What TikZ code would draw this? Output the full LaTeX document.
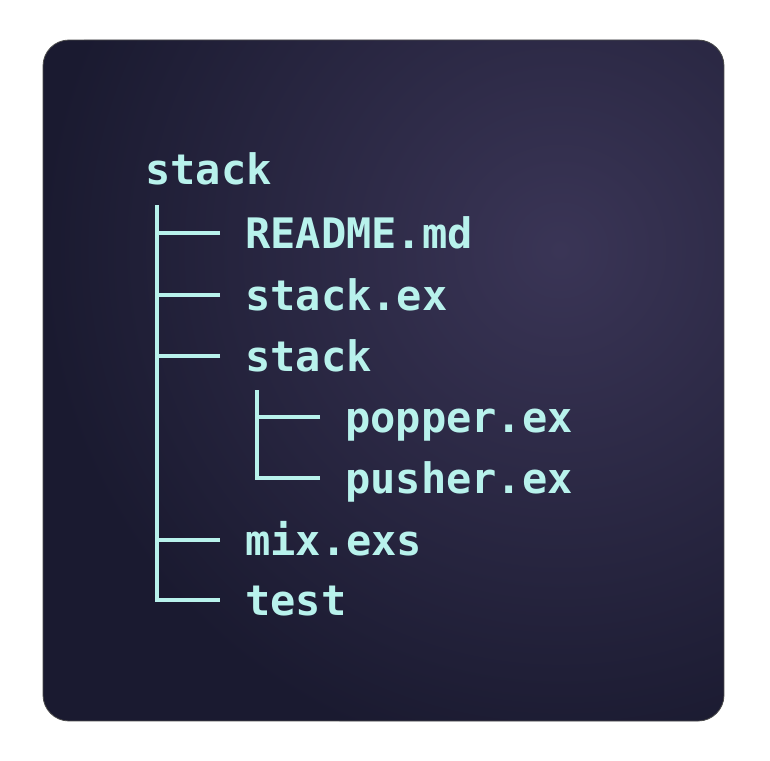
\documentclass[tikz,border=0pt]{standalone}
\usepackage{fontspec}
\setmonofont{DejaVu Sans Mono}
\definecolor{txt}{RGB}{184,242,236}
\definecolor{bgin}{RGB}{58,53,86}
\definecolor{bgout}{RGB}{26,26,48}
\tikzset{
  fname/.style={anchor=base west, inner sep=0pt, text=txt, font=\ttfamily\bfseries\fontsize{42}{42}\selectfont},
  branch/.style={draw=txt, line width=3.2pt},
}
\begin{document}
\begin{tikzpicture}[x=1pt,y=-1pt]
\useasboundingbox (0,0) rectangle (770,760);
\fill[white] (0,0) rectangle (770,760);
\begin{scope}
  \clip[rounded corners=26pt] (43,40) rectangle (724,721);
  \fill[bgout] (43,40) rectangle (724,721);
  \shade[inner color=bgin, outer color=bgout] (560,250) circle (520);
\end{scope}
\draw[black!70, line width=0.8pt, rounded corners=26pt] (43,40) rectangle (724,721);

\node[fname] (root) at (145,184) {stack};
\node[fname] (readme) at (245,248) {README.md};
\node[fname] (stackex) at (245,310) {stack.ex};
\node[fname] (sub) at (245,371) {stack};
\node[fname] (popper) at (345,432) {popper.ex};
\node[fname] (pusher) at (345,493) {pusher.ex};
\node[fname] (mix) at (245,555) {mix.exs};
\node[fname] (test) at (245,615) {test};

\coordinate (v1top) at (157,205);
\coordinate (v1bot) at (157,600);
\coordinate (h1) at (220,233);
\coordinate (h2) at (220,295);
\coordinate (h3) at (220,356);
\coordinate (h6) at (220,540);
\coordinate (h7) at (220,600);
\coordinate (v2top) at (257,390);
\coordinate (v2bot) at (257,478);
\coordinate (h4) at (320,417);
\coordinate (h5) at (320,478);

\draw[branch] (v1top) -- (v1bot) -- (h7);
\draw[branch] (h1) -- (v1top |- h1);
\draw[branch] (h2) -- (v1top |- h2);
\draw[branch] (h3) -- (v1top |- h3);
\draw[branch] (h6) -- (v1top |- h6);
\draw[branch] (v2top) -- (v2bot) -- (h5);
\draw[branch] (h4) -- (v2top |- h4);
\end{tikzpicture}
\end{document}
